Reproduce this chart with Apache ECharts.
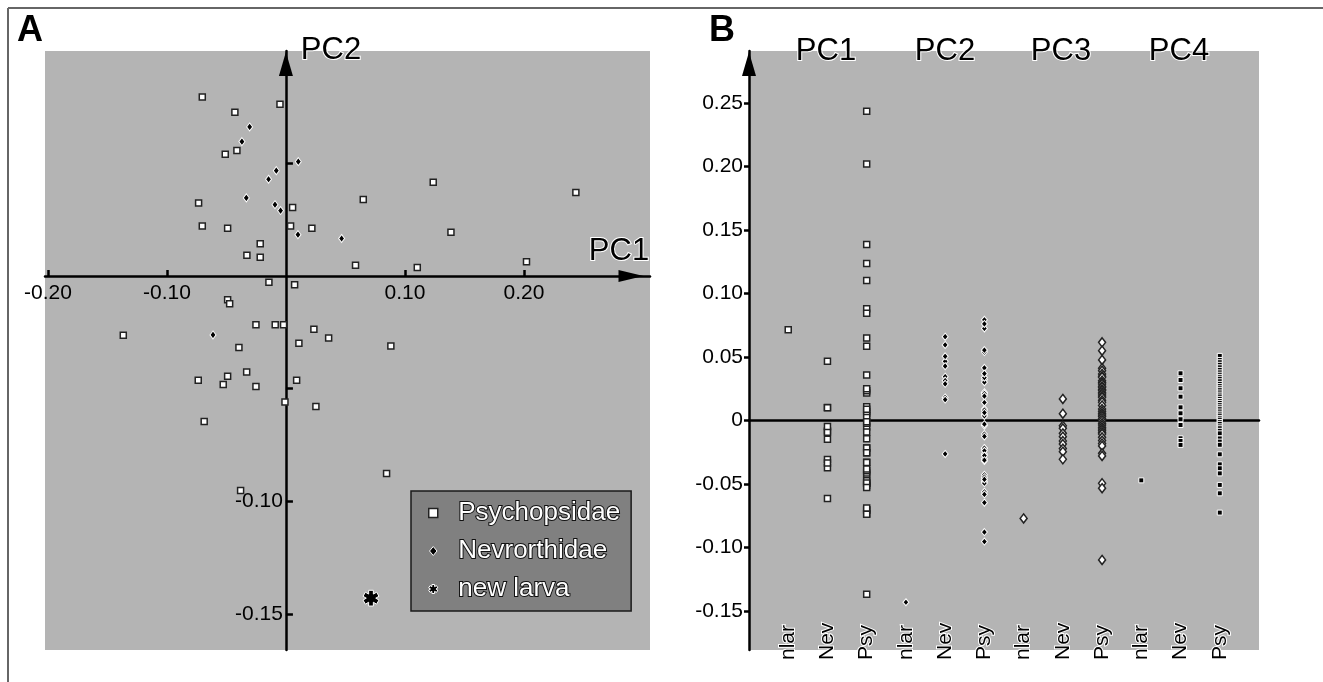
<!DOCTYPE html>
<html>
<head>
<meta charset="utf-8">
<title>PCA scores</title>
<script src="https://cdn.jsdelivr.net/npm/echarts@6/dist/echarts.min.js"></script>
<style>
body { margin: 0; padding: 0; background: #fff; }
#chart { width: 1323px; height: 682px; }
</style>
</head>
<body>
<div id="chart"></div>
<script>
// PC scores
const psyPC1 = [-0.0703, -0.0429, -0.0050, -0.0510, -0.0412, -0.0734, 0.0056, -0.0703, -0.0490, 0.0039,
  -0.0216, -0.0328, -0.0216, 0.0218, 0.0650, 0.1238, 0.2437, 0.1387, 0.0585, 0.1104,
  0.2022, 0.0073, -0.0143, -0.0490, -0.0473, -0.0252, -0.0090, -0.0020, -0.1367, -0.0395,
  -0.0330, -0.0737, -0.0490, -0.0527, -0.0252, -0.0008, -0.0687, 0.0109, 0.0090, 0.0235,
  0.0359, 0.0882, 0.0252, 0.0846, -0.0381];
const psyPC2 = [0.0794, 0.0726, 0.0762, 0.0540, 0.0556, 0.0323, 0.0303, 0.0222, 0.0212, 0.0222,
  0.0143, 0.0092, 0.0083, 0.0212, 0.0339, 0.0416, 0.0370, 0.0194, 0.0047, 0.0037,
  0.0063, -0.0039, -0.0028, -0.0106, -0.0124, -0.0217, -0.0217, -0.0217, -0.0263, -0.0318,
  -0.0426, -0.0463, -0.0445, -0.0482, -0.0491, -0.0560, -0.0646, -0.0299, -0.0463, -0.0237,
  -0.0275, -0.0311, -0.0580, -0.0877, -0.0952];
const psyPC3 = [0.0617, 0.0551, 0.0478, 0.0413, 0.0394, 0.0368, 0.0350, 0.0342, 0.0315, 0.0300,
  0.0289, 0.0270, 0.0263, 0.0245, 0.0237, 0.0220, 0.0210, 0.0195, 0.0184, 0.0160,
  0.0145, 0.0120, 0.0092, 0.0075, 0.0058, 0.0045, 0.0032, 0.0015, 0.0000, -0.0020,
  -0.0035, -0.0052, -0.0065, -0.0079, -0.0095, -0.0105, -0.0131, -0.0157, -0.0180, -0.0199,
  -0.0257, -0.0278, -0.0493, -0.0532, -0.1097];
const psyPC4 = [0.0510, 0.0478, 0.0460, 0.0440, 0.0420, 0.0400, 0.0380, 0.0362, 0.0345, 0.0330,
  0.0310, 0.0290, 0.0272, 0.0255, 0.0240, 0.0222, 0.0205, 0.0190, 0.0172, 0.0155,
  0.0140, 0.0122, 0.0105, 0.0090, 0.0072, 0.0055, 0.0040, 0.0022, 0.0008, -0.0010,
  -0.0025, -0.0045, -0.0060, -0.0080, -0.0100, -0.0140, -0.0165, -0.0190, -0.0265, -0.0344,
  -0.0375, -0.0415, -0.0506, -0.0572, -0.0724];

const nevPC1 = [-0.0305, -0.0370, -0.0081, -0.0146, -0.0333, -0.0092, -0.0045, 0.0104, 0.0101, 0.0468, -0.0613];
const nevPC2 = [0.0661, 0.0596, 0.0467, 0.0429, 0.0346, 0.0316, 0.0290, 0.0507, 0.0183, 0.0166, -0.0262];
const nevPC3 = [0.0171, 0.0055, -0.0040, -0.0060, -0.0100, -0.0126, -0.0160, -0.0184, -0.0220, -0.0244, -0.0304];
const nevPC4 = [0.0373, 0.0320, 0.0255, 0.0189, 0.0105, 0.0058, 0.0011, -0.0034, -0.0139, -0.0160, -0.0191];

// new larva, PC1..PC4
const nlarPC = [0.0715, -0.143, -0.077, -0.047];

const groupLabels = ["nlar", "Nev", "Psy"];
const pcNames = ["PC1", "PC2", "PC3", "PC4"];
const seriesNames = ["Psychopsidae", "Nevrorthidae", "new larva"];

const xTicksA = [-0.2, -0.1, 0.1, 0.2];
const yTicksA = [0.05, -0.05, -0.1, -0.15];
const yLabelsA = [-0.1, -0.15];
const yTicksB = [-0.15, -0.1, -0.05, 0, 0.05, 0.1, 0.15, 0.2, 0.25];

// axis ranges
const xRangeA = [-0.2025, 0.306];
const yRangeA = [-0.166, 0.0998];
const yRangeB = [-0.1806, 0.2911];

const gridA = { left: 45, top: 51, width: 605, height: 599 };
const gridB = { left: 749, top: 51, width: 510, height: 599 };

const FONT = "Liberation Sans, Arial, Helvetica, sans-serif";

// six-armed asterisk as one outline (so the white border only goes round the outside)
function asteriskPath() {
  const L = 1, w = 0.3;
  const pts = [];
  for (let i = 0; i < 6; i++) {
    const a = ((90 + 60 * i) * Math.PI) / 180;
    const c = Math.cos(a), s = Math.sin(a);
    pts.push([L * c + w * s, L * s - w * c]);
    pts.push([L * c - w * s, L * s + w * c]);
    const b = a + Math.PI / 6;
    pts.push([2 * w * Math.cos(b), 2 * w * Math.sin(b)]);
  }
  return "path://M" + pts.map((p) => p[0].toFixed(3) + " " + p[1].toFixed(3)).join(" L") + " Z";
}
const ASTERISK = asteriskPath();

const pcStyles = [
  { symbol: "rect", size: 6, color: "#fff", border: "#222", bw: 1.5 },
  { symbol: "diamond", size: [6, 7], color: "#000", border: "#fff", bw: 1 },
  { symbol: "diamond", size: [7, 9], color: "#fff", border: "#222", bw: 1.5 },
  { symbol: "rect", size: 5, color: "#000", border: "#fff", bw: 1 },
];

const nevAll = [nevPC1, nevPC2, nevPC3, nevPC4];
const psyAll = [psyPC1, psyPC2, psyPC3, psyPC4];

const seriesB = pcNames.map((pc, k) => {
  const data = [[3 * k, nlarPC[k]]];
  nevAll[k].forEach((v) => data.push([3 * k + 1, v]));
  psyAll[k].forEach((v) => data.push([3 * k + 2, v]));
  const st = pcStyles[k];
  return {
    name: pc,
    type: "scatter",
    xAxisIndex: 1,
    yAxisIndex: 1,
    data: data,
    symbol: st.symbol,
    symbolSize: st.size,
    itemStyle: { color: st.color, borderColor: st.border, borderWidth: st.bw, opacity: 1 },
    silent: true,
  };
});

const axisBlack = { color: "#000", width: 2.5 };
const tickLabel = { fontFamily: FONT, fontSize: 21, color: "#000" };

const psyStyle = { color: "#fff", borderColor: "#222", borderWidth: 1.5, opacity: 1 };
const nevStyle = { color: "#000", borderColor: "#fff", borderWidth: 1, opacity: 1 };
const nlarStyle = { color: "#000", borderColor: "#fff", borderWidth: 1, opacity: 1 };

// where the zero lines of panel A sit, as offsets from the grid edges
const zeroFromBottomA = (gridA.height * (0 - yRangeA[0])) / (yRangeA[1] - yRangeA[0]);
const zeroFromLeftA = (gridA.width * (0 - xRangeA[0])) / (xRangeA[1] - xRangeA[0]);

const pcLabel = (text, x, y) => ({
  type: "text",
  x: x,
  y: y,
  z: 10,
  silent: true,
  style: { text: text, font: "31px " + FONT, fill: "#000", stroke: "#fff", lineWidth: 2, textAlign: "center", textVerticalAlign: "middle" },
});

const option = {
  animation: false,
  backgroundColor: "#fff",
  grid: [
    Object.assign({ show: true, backgroundColor: "#b4b4b4", borderWidth: 0 }, gridA),
    Object.assign({ show: true, backgroundColor: "#b4b4b4", borderWidth: 0 }, gridB),
  ],
  xAxis: [
    {
      gridIndex: 0,
      type: "value",
      min: xRangeA[0],
      max: xRangeA[1],
      axisLine: { onZero: true, lineStyle: axisBlack, symbol: ["none", "triangle"], symbolSize: [12, 25], symbolOffset: [0, -19] },
      axisTick: { inside: true, length: 6, lineStyle: axisBlack, customValues: xTicksA },
      axisLabel: { show: false },
      splitLine: { show: false },
    },
    {
      gridIndex: 1,
      type: "value",
      min: -1,
      max: 12,
      axisLine: { onZero: true, lineStyle: axisBlack },
      axisTick: { show: false },
      axisLabel: { show: false },
      splitLine: { show: false },
    },
    {
      gridIndex: 1,
      type: "value",
      position: "bottom",
      min: -1,
      max: 12,
      axisLine: { show: false, onZero: false },
      axisTick: { show: false },
      axisLabel: Object.assign({
        customValues: [0, 1, 2, 3, 4, 5, 6, 7, 8, 9, 10, 11],
        formatter: (v) => groupLabels[Math.round(v) % 3],
        rotate: 90,
        inside: true,
        margin: -10,
        textBorderColor: "#fff",
        textBorderWidth: 2,
      }, tickLabel),
      splitLine: { show: false },
    },
    {
      // tick labels of panel A's PC1 axis, sitting on the zero line
      gridIndex: 0,
      type: "value",
      position: "bottom",
      offset: -zeroFromBottomA,
      min: xRangeA[0],
      max: xRangeA[1],
      axisLine: { show: false, onZero: false },
      axisTick: { show: false },
      axisLabel: Object.assign({ customValues: xTicksA, margin: 7, formatter: (v) => v.toFixed(2) }, tickLabel),
      splitLine: { show: false },
    },
  ],
  yAxis: [
    {
      gridIndex: 0,
      type: "value",
      min: yRangeA[0],
      max: yRangeA[1],
      axisLine: { onZero: true, lineStyle: axisBlack, symbol: ["none", "triangle"], symbolSize: [14, 24], symbolOffset: [0, -13] },
      axisTick: { inside: true, length: 7, lineStyle: axisBlack, customValues: yTicksA },
      axisLabel: { show: false },
      splitLine: { show: false },
    },
    {
      gridIndex: 1,
      type: "value",
      min: yRangeB[0],
      max: yRangeB[1],
      axisLine: { onZero: false, lineStyle: axisBlack, symbol: ["none", "triangle"], symbolSize: [14, 24], symbolOffset: [0, -13] },
      axisTick: { inside: false, length: 5, lineStyle: axisBlack, customValues: yTicksB },
      axisLabel: Object.assign({
        customValues: yTicksB,
        margin: 6,
        formatter: (v) => (Math.abs(v) < 1e-9 ? "0" : v.toFixed(2)),
      }, tickLabel),
      splitLine: { show: false },
    },
    {
      // tick labels of panel A's PC2 axis, sitting on the zero line
      gridIndex: 0,
      type: "value",
      position: "left",
      offset: -zeroFromLeftA,
      min: yRangeA[0],
      max: yRangeA[1],
      axisLine: { show: false, onZero: false },
      axisTick: { show: false },
      axisLabel: Object.assign({ customValues: yLabelsA, margin: 3, formatter: (v) => v.toFixed(2) }, tickLabel),
      splitLine: { show: false },
    },
  ],
  legend: {
    data: [
      { name: seriesNames[0], icon: "path://M0 0L10 0L10 10L0 10Z", itemStyle: psyStyle },
      { name: seriesNames[1], icon: "path://M5 0L10 6L5 12L0 6Z", itemStyle: nevStyle },
      { name: seriesNames[2], icon: ASTERISK, itemStyle: nlarStyle },
    ],
    orient: "vertical",
    left: 411,
    top: 491,
    padding: [7, 10, 7, 17],
    itemWidth: 40,
    itemHeight: 9,
    itemGap: 8,
    selectedMode: false,
    backgroundColor: "#808080",
    borderColor: "#1a1a1a",
    borderWidth: 1.5,
    borderRadius: 0,
    textStyle: {
      fontFamily: FONT,
      fontSize: 26,
      lineHeight: 30,
      color: "#fff",
      textBorderColor: "#111",
      textBorderWidth: 2,
    },
  },
  series: [
    {
      name: seriesNames[0],
      type: "scatter",
      xAxisIndex: 0,
      yAxisIndex: 0,
      data: psyPC1.map((v, i) => [v, psyPC2[i]]),
      symbol: "rect",
      symbolSize: 6,
      itemStyle: psyStyle,
      silent: true,
    },
    {
      name: seriesNames[1],
      type: "scatter",
      xAxisIndex: 0,
      yAxisIndex: 0,
      data: nevPC1.map((v, i) => [v, nevPC2[i]]),
      symbol: "diamond",
      symbolSize: [6, 8],
      itemStyle: nevStyle,
      silent: true,
    },
    {
      name: seriesNames[2],
      type: "scatter",
      xAxisIndex: 0,
      yAxisIndex: 0,
      data: [[nlarPC[0], nlarPC[1]]],
      symbol: ASTERISK,
      symbolKeepAspect: true,
      symbolSize: 16,
      itemStyle: nlarStyle,
      silent: true,
    },
  ].concat(seriesB),
  graphic: [
    { type: "line", shape: { x1: 8, y1: 8, x2: 1323, y2: 8 }, style: { stroke: "#666", lineWidth: 2 }, silent: true },
    { type: "line", shape: { x1: 8, y1: 8, x2: 8, y2: 682 }, style: { stroke: "#666", lineWidth: 2 }, silent: true },
    { type: "text", x: 30, y: 31, silent: true, style: { text: "A", font: "bold 36px " + FONT, fill: "#000", textAlign: "center", textVerticalAlign: "middle" } },
    { type: "text", x: 722, y: 31, silent: true, style: { text: "B", font: "bold 36px " + FONT, fill: "#000", textAlign: "center", textVerticalAlign: "middle" } },
    pcLabel("PC2", 331, 50),
    pcLabel("PC1", 619, 251),
    pcLabel(pcNames[0], 826, 51),
    pcLabel(pcNames[1], 945, 51),
    pcLabel(pcNames[2], 1061, 51),
    pcLabel(pcNames[3], 1179, 51),
  ],
};

const chart = echarts.init(document.getElementById("chart"));
chart.setOption(option);
</script>
</body>
</html>
